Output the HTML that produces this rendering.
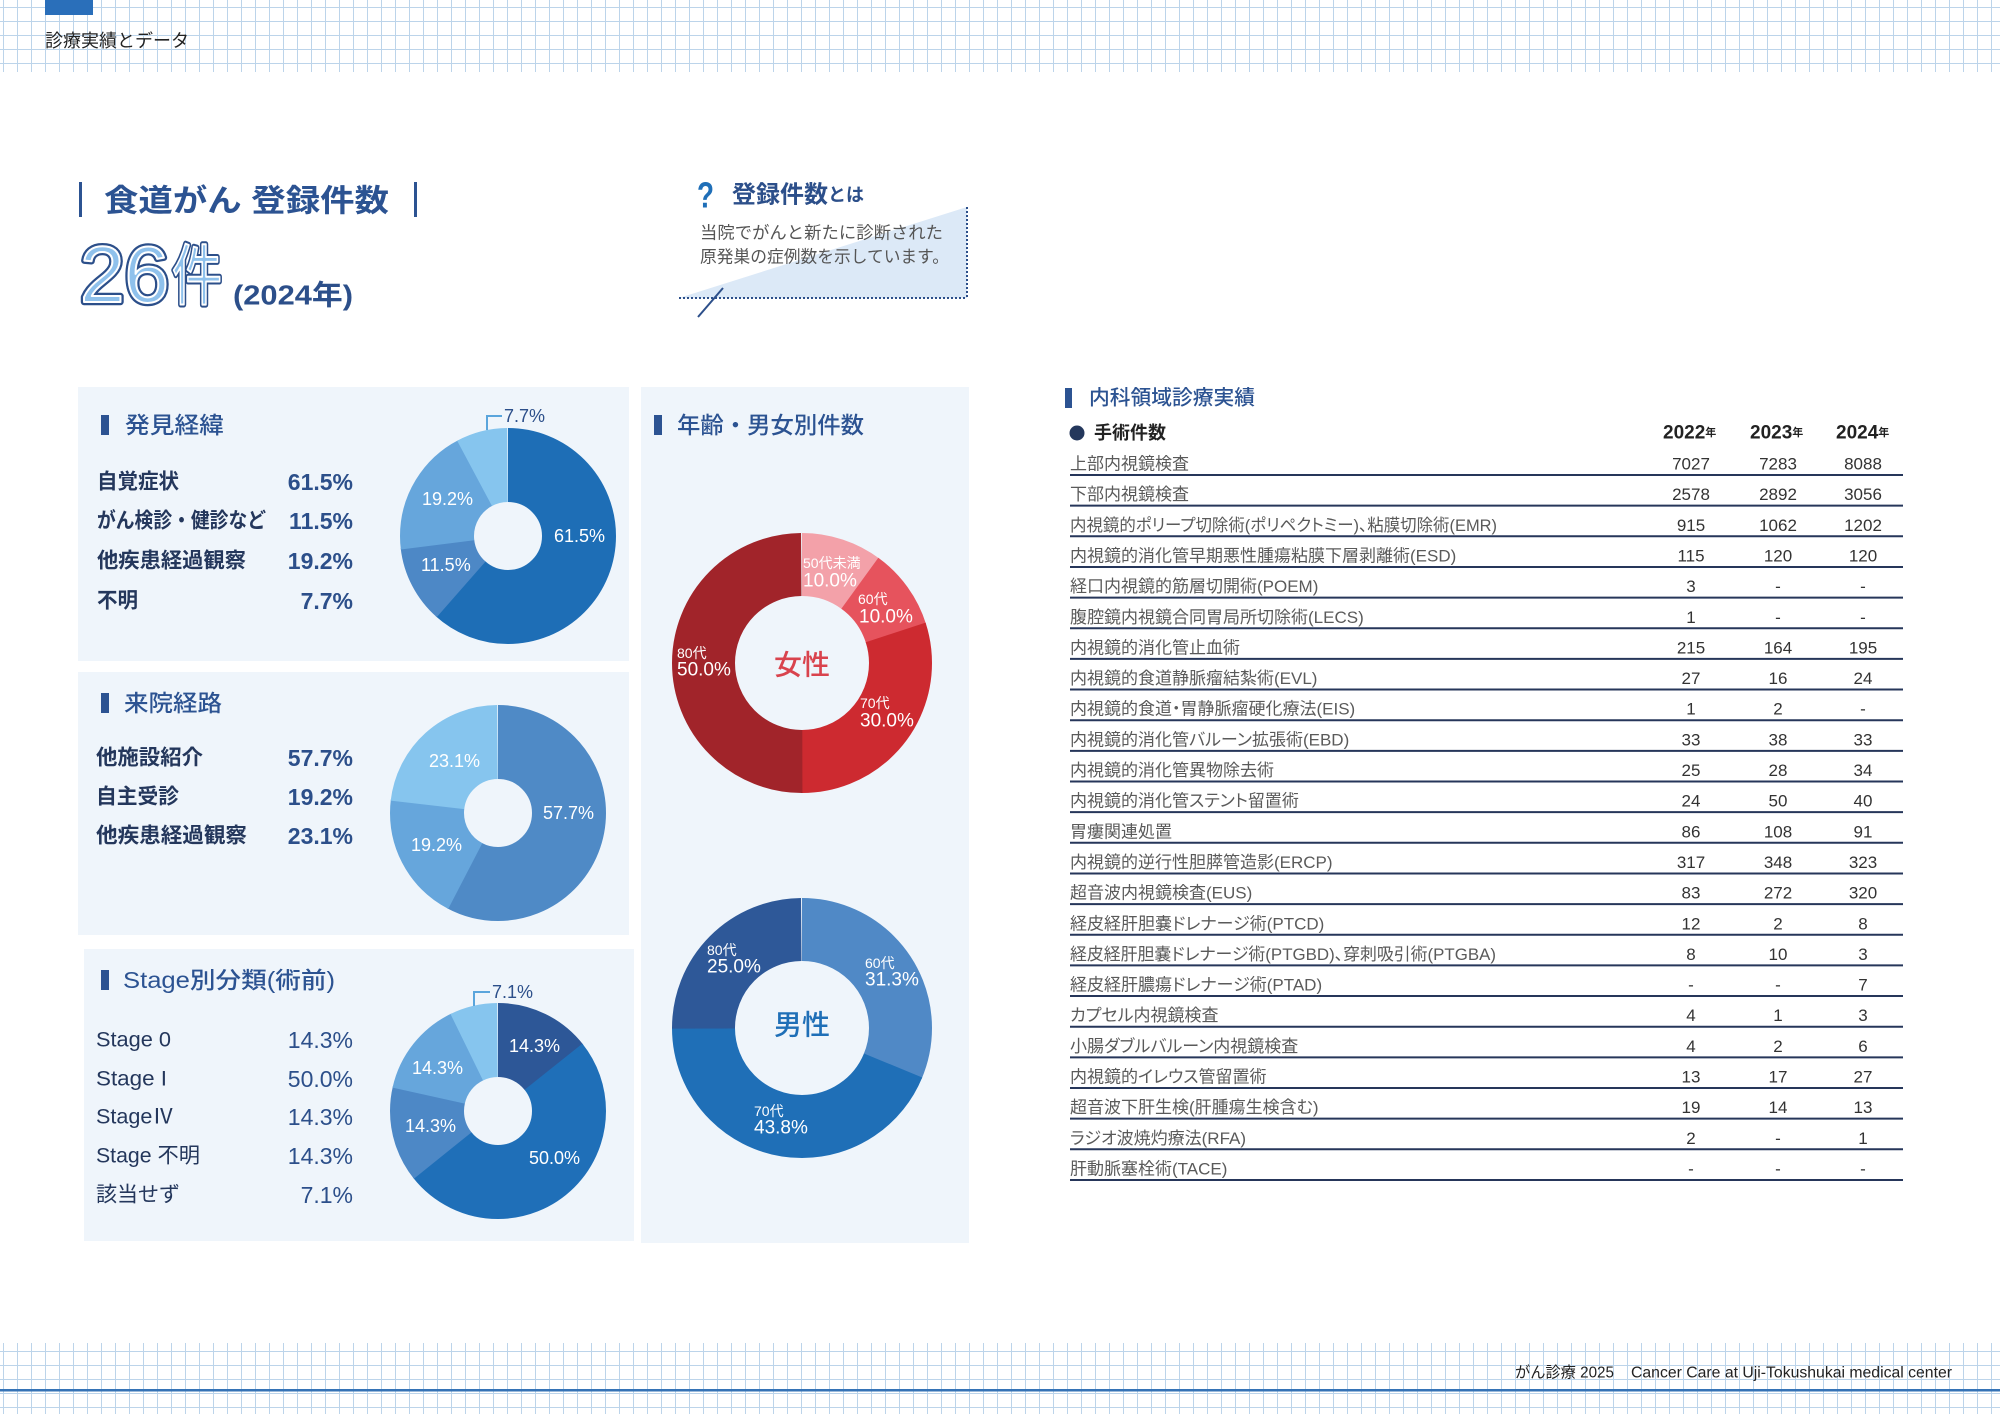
<!DOCTYPE html>
<html><head><meta charset="utf-8">
<style>
html,body{margin:0;padding:0;background:#fff;}
body{width:2000px;height:1414px;overflow:hidden;position:relative;}
svg{position:absolute;left:0;top:0;display:block;}
text{font-family:"Liberation Sans","Noto Sans CJK JP",sans-serif;dominant-baseline:central;}
.hd{font-size:23px;font-weight:500;fill:#2c5392;}
.lb{font-size:21px;font-weight:bold;fill:#24375c;}
.lbr{font-size:21px;fill:#24375c;}
.pc{font-size:23px;font-weight:bold;fill:#2c4f8a;text-anchor:end;}
.pcr{font-size:23px;fill:#2c4f8a;text-anchor:end;}
.wl{font-size:18px;fill:#fff;}
.ag{font-size:14px;fill:#fff;}
.ap{font-size:19px;fill:#fff;}
.tr{font-size:17px;fill:#5a5a5a;font-feature-settings:"palt";}
.tn{font-size:17px;fill:#333;text-anchor:middle;}
</style></head>
<body>
<svg xmlns="http://www.w3.org/2000/svg" width="2000" height="1414" viewBox="0 0 2000 1414">
<defs>
<pattern id="g" x="3" y="7" width="14" height="14" patternUnits="userSpaceOnUse">
<path d="M0.5 0V14M0 0.5H14" stroke="#bcd4ea" stroke-width="1" fill="none"/>
</pattern>
</defs>
<rect width="2000" height="1414" fill="#fff"/>
<!-- header grid -->
<rect x="0" y="0" width="2000" height="72" fill="url(#g)"/>
<rect x="45" y="0" width="48" height="15" fill="#2a6fba"/>
<text x="45" y="41" font-size="18" fill="#222">診療実績とデータ</text>
<!-- footer grid -->
<rect x="0" y="1343" width="2000" height="71" fill="url(#g)"/>
<rect x="0" y="1389" width="2000" height="2.5" fill="#3573b6"/>
<text x="1515" y="1373" font-size="15.5" fill="#222" textLength="99" lengthAdjust="spacingAndGlyphs">がん診療 2025</text>
<text x="1631" y="1373" font-size="15.5" fill="#222" textLength="321" lengthAdjust="spacingAndGlyphs">Cancer Care at Uji-Tokushukai medical center</text>

<!-- title -->
<rect x="79" y="182" width="3" height="35" fill="#2c5392"/>
<rect x="414" y="182" width="3" height="35" fill="#2c5392"/>
<text x="104" y="201" font-size="31" font-weight="bold" fill="#2c5392" textLength="285" lengthAdjust="spacingAndGlyphs">食道がん 登録件数</text>
<text x="80" y="302" font-size="80" stroke="#2c4f8a" stroke-width="6.5" stroke-linejoin="round" fill="#2c4f8a" style="dominant-baseline:alphabetic">26</text>
<text x="80" y="302" font-size="80" stroke="#ffffff" stroke-width="2" stroke-linejoin="round" fill="#8fc1ec" style="dominant-baseline:alphabetic">26</text>
<text x="172" y="299" font-size="66" stroke="#2c4f8a" stroke-width="6" stroke-linejoin="round" fill="#2c4f8a" textLength="50" lengthAdjust="spacingAndGlyphs" style="dominant-baseline:alphabetic">件</text>
<text x="172" y="299" font-size="66" stroke="#ffffff" stroke-width="2" stroke-linejoin="round" fill="#8fc1ec" textLength="50" lengthAdjust="spacingAndGlyphs" style="dominant-baseline:alphabetic">件</text>
<text x="233" y="295" font-size="28" font-weight="bold" fill="#2c4f8a" textLength="120" lengthAdjust="spacingAndGlyphs">(2024年)</text>

<!-- question box -->
<polygon points="679,298 967,207 967,298" fill="#dce9f7"/>
<line x1="679" y1="298" x2="967" y2="298" stroke="#2c4f8a" stroke-width="2" stroke-dasharray="2 2"/>
<line x1="967" y1="207" x2="967" y2="298" stroke="#2c4f8a" stroke-width="2" stroke-dasharray="2 2"/>
<line x1="698" y1="317" x2="723" y2="288" stroke="#2c4f8a" stroke-width="2"/>
<text x="697" y="195" font-size="36" font-weight="bold" fill="#1f6fb8" textLength="17" lengthAdjust="spacingAndGlyphs">?</text>
<text x="732" y="195" font-size="24" font-weight="bold" fill="#2c4f8a">登録件数<tspan font-size="18">とは</tspan></text>
<text x="700" y="233" font-size="17" fill="#555" textLength="243" lengthAdjust="spacingAndGlyphs">当院でがんと新たに診断された</text>
<text x="700" y="257" font-size="17" fill="#555" textLength="249" lengthAdjust="spacingAndGlyphs">原発巣の症例数を示しています。</text>

<!-- panels -->
<rect x="78" y="387" width="551" height="274" fill="#eff5fb"/>
<rect x="78" y="672" width="551" height="263" fill="#eff5fb"/>
<rect x="84" y="949" width="550" height="292" fill="#eff5fb"/>
<rect x="641" y="387" width="328" height="856" fill="#eff5fb"/>

<!-- Panel A -->
<rect x="101" y="415" width="8" height="20" fill="#2c5392"/>
<text class="hd" x="125" y="425" textLength="99" lengthAdjust="spacingAndGlyphs">発見経緯</text>
<text class="lb" x="97" y="482" textLength="82" lengthAdjust="spacingAndGlyphs">自覚症状</text>
<text class="lb" x="97" y="521" textLength="169" lengthAdjust="spacingAndGlyphs">がん検診・健診など</text>
<text class="lb" x="97" y="561" textLength="149" lengthAdjust="spacingAndGlyphs">他疾患経過観察</text>
<text class="lb" x="97" y="601" textLength="41" lengthAdjust="spacingAndGlyphs">不明</text>
<text class="pc" x="353" y="482">61.5%</text>
<text class="pc" x="353" y="521">11.5%</text>
<text class="pc" x="353" y="561">19.2%</text>
<text class="pc" x="353" y="601">7.7%</text>
<g transform="translate(508,536) rotate(-90)" fill="none" stroke-width="74">
<circle r="71" pathLength="100" stroke="#1e6eb6" stroke-dasharray="61.74 200" stroke-dashoffset="0"/>
<circle r="71" pathLength="100" stroke="#4d88c6" stroke-dasharray="11.74 200" stroke-dashoffset="-61.54"/>
<circle r="71" pathLength="100" stroke="#66a6dc" stroke-dasharray="19.43 200" stroke-dashoffset="-73.08"/>
<circle r="71" pathLength="100" stroke="#86c5ee" stroke-dasharray="7.69 200" stroke-dashoffset="-92.31"/>
</g>
<text class="wl" x="554" y="536">61.5%</text>
<text class="wl" x="421" y="565">11.5%</text>
<text class="wl" x="422" y="499">19.2%</text>
<polyline points="487,430 487,416 502,416" fill="none" stroke="#5aa5dc" stroke-width="2"/>
<text x="504" y="416" font-size="18" fill="#2c4f8a">7.7%</text>

<!-- Panel B -->
<rect x="101" y="693" width="8" height="20" fill="#2c5392"/>
<text class="hd" x="124" y="703" textLength="98" lengthAdjust="spacingAndGlyphs">来院経路</text>
<text class="lb" x="96" y="758" textLength="107" lengthAdjust="spacingAndGlyphs">他施設紹介</text>
<text class="lb" x="96" y="797" textLength="83" lengthAdjust="spacingAndGlyphs">自主受診</text>
<text class="lb" x="96" y="836" textLength="151" lengthAdjust="spacingAndGlyphs">他疾患経過観察</text>
<text class="pc" x="353" y="758">57.7%</text>
<text class="pc" x="353" y="797">19.2%</text>
<text class="pc" x="353" y="836">23.1%</text>
<g transform="translate(498,813) rotate(-90)" fill="none" stroke-width="74">
<circle r="71" pathLength="100" stroke="#4f8ac6" stroke-dasharray="57.89 200" stroke-dashoffset="0"/>
<circle r="71" pathLength="100" stroke="#66a6dc" stroke-dasharray="19.43 200" stroke-dashoffset="-57.69"/>
<circle r="71" pathLength="100" stroke="#86c5ee" stroke-dasharray="23.08 200" stroke-dashoffset="-76.92"/>
</g>
<text class="wl" x="543" y="813">57.7%</text>
<text class="wl" x="411" y="845">19.2%</text>
<text class="wl" x="429" y="761">23.1%</text>

<!-- Panel C -->
<rect x="101" y="970" width="8" height="20" fill="#2c5392"/>
<text class="hd" x="123" y="980" textLength="212" lengthAdjust="spacingAndGlyphs">Stage別分類(術前)</text>
<text class="lbr" x="96" y="1040" textLength="75" lengthAdjust="spacingAndGlyphs">Stage 0</text>
<text class="lbr" x="96" y="1079" textLength="71" lengthAdjust="spacingAndGlyphs">Stage I</text>
<text class="lbr" x="96" y="1117" textLength="78" lengthAdjust="spacingAndGlyphs">StageⅣ</text>
<text class="lbr" x="96" y="1156" textLength="104" lengthAdjust="spacingAndGlyphs">Stage 不明</text>
<text class="lbr" x="96" y="1195" textLength="84" lengthAdjust="spacingAndGlyphs">該当せず</text>
<text class="pcr" x="353" y="1040">14.3%</text>
<text class="pcr" x="353" y="1079">50.0%</text>
<text class="pcr" x="353" y="1117">14.3%</text>
<text class="pcr" x="353" y="1156">14.3%</text>
<text class="pcr" x="353" y="1195">7.1%</text>
<g transform="translate(498,1111) rotate(-90)" fill="none" stroke-width="74">
<circle r="71" pathLength="100" stroke="#2d5797" stroke-dasharray="14.49 200" stroke-dashoffset="0"/>
<circle r="71" pathLength="100" stroke="#1f6fb8" stroke-dasharray="50.2 200" stroke-dashoffset="-14.29"/>
<circle r="71" pathLength="100" stroke="#4d88c6" stroke-dasharray="14.49 200" stroke-dashoffset="-64.29"/>
<circle r="71" pathLength="100" stroke="#66a6dc" stroke-dasharray="14.49 200" stroke-dashoffset="-78.57"/>
<circle r="71" pathLength="100" stroke="#86c5ee" stroke-dasharray="7.14 200" stroke-dashoffset="-92.86"/>
</g>
<text class="wl" x="509" y="1046">14.3%</text>
<text class="wl" x="529" y="1158">50.0%</text>
<text class="wl" x="405" y="1126">14.3%</text>
<text class="wl" x="412" y="1068">14.3%</text>
<polyline points="474,1006 474,992 490,992" fill="none" stroke="#5aa5dc" stroke-width="2"/>
<text x="492" y="992" font-size="18" fill="#2c4f8a">7.1%</text>

<!-- Panel D -->
<rect x="654" y="415" width="8" height="20" fill="#2c5392"/>
<text class="hd" x="677" y="425" textLength="187" lengthAdjust="spacingAndGlyphs">年齢・男女別件数</text>
<g transform="translate(802,663) rotate(-90)" fill="none" stroke-width="63">
<circle r="98.5" pathLength="100" stroke="#f3a1a9" stroke-dasharray="10.2 200" stroke-dashoffset="0"/>
<circle r="98.5" pathLength="100" stroke="#e6535d" stroke-dasharray="10.2 200" stroke-dashoffset="-10"/>
<circle r="98.5" pathLength="100" stroke="#cd2a30" stroke-dasharray="30.2 200" stroke-dashoffset="-20"/>
<circle r="98.5" pathLength="100" stroke="#a1242a" stroke-dasharray="50 200" stroke-dashoffset="-50"/>
</g>
<text x="802" y="665" font-size="28" font-weight="500" fill="#d9434d" text-anchor="middle">女性</text>
<text class="ag" x="803" y="563">50代未満</text>
<text class="ap" x="803" y="581">10.0%</text>
<text class="ag" x="858" y="599">60代</text>
<text class="ap" x="859" y="617">10.0%</text>
<text class="ag" x="677" y="653">80代</text>
<text class="ap" x="677" y="670">50.0%</text>
<text class="ag" x="860" y="703">70代</text>
<text class="ap" x="860" y="721">30.0%</text>

<g transform="translate(802,1028) rotate(-90)" fill="none" stroke-width="63">
<circle r="98.5" pathLength="100" stroke="#5089c6" stroke-dasharray="31.45 200" stroke-dashoffset="0"/>
<circle r="98.5" pathLength="100" stroke="#1f6fb7" stroke-dasharray="43.95 200" stroke-dashoffset="-31.25"/>
<circle r="98.5" pathLength="100" stroke="#2e5898" stroke-dasharray="25 200" stroke-dashoffset="-75"/>
</g>
<text x="802" y="1025" font-size="28" font-weight="500" fill="#1f6fb7" text-anchor="middle">男性</text>
<text class="ag" x="707" y="950">80代</text>
<text class="ap" x="707" y="967">25.0%</text>
<text class="ag" x="865" y="963">60代</text>
<text class="ap" x="865" y="980">31.3%</text>
<text class="ag" x="754" y="1111">70代</text>
<text class="ap" x="754" y="1128">43.8%</text>

<!-- Table -->
<rect x="1065" y="388" width="7" height="20" fill="#2c5392"/>
<text x="1089" y="398" font-size="20.5" font-weight="500" fill="#2c5392" textLength="166" lengthAdjust="spacingAndGlyphs">内科領域診療実績</text>
<circle cx="1077" cy="433" r="7.5" fill="#24375c"/>
<text x="1094" y="433" font-size="18" font-weight="bold" fill="#222">手術件数</text>
<text x="1663" y="433" font-size="19" font-weight="bold" fill="#222">2022<tspan font-size="11">年</tspan></text>
<text x="1750" y="433" font-size="19" font-weight="bold" fill="#222">2023<tspan font-size="11">年</tspan></text>
<text x="1836" y="433" font-size="19" font-weight="bold" fill="#222">2024<tspan font-size="11">年</tspan></text>

<g stroke="#26365a" stroke-width="2">
<line x1="1070" x2="1903" y1="475" y2="475"/>
<line x1="1070" x2="1903" y1="505.65" y2="505.65"/>
<line x1="1070" x2="1903" y1="536.3" y2="536.3"/>
<line x1="1070" x2="1903" y1="566.95" y2="566.95"/>
<line x1="1070" x2="1903" y1="597.6" y2="597.6"/>
<line x1="1070" x2="1903" y1="628.25" y2="628.25"/>
<line x1="1070" x2="1903" y1="658.9" y2="658.9"/>
<line x1="1070" x2="1903" y1="689.55" y2="689.55"/>
<line x1="1070" x2="1903" y1="720.2" y2="720.2"/>
<line x1="1070" x2="1903" y1="750.85" y2="750.85"/>
<line x1="1070" x2="1903" y1="781.5" y2="781.5"/>
<line x1="1070" x2="1903" y1="812.15" y2="812.15"/>
<line x1="1070" x2="1903" y1="842.8" y2="842.8"/>
<line x1="1070" x2="1903" y1="873.45" y2="873.45"/>
<line x1="1070" x2="1903" y1="904.1" y2="904.1"/>
<line x1="1070" x2="1903" y1="934.75" y2="934.75"/>
<line x1="1070" x2="1903" y1="965.4" y2="965.4"/>
<line x1="1070" x2="1903" y1="996.05" y2="996.05"/>
<line x1="1070" x2="1903" y1="1026.7" y2="1026.7"/>
<line x1="1070" x2="1903" y1="1057.35" y2="1057.35"/>
<line x1="1070" x2="1903" y1="1088" y2="1088"/>
<line x1="1070" x2="1903" y1="1118.65" y2="1118.65"/>
<line x1="1070" x2="1903" y1="1149.3" y2="1149.3"/>
<line x1="1070" x2="1903" y1="1179.95" y2="1179.95"/>
</g>

<text class="tr" x="1070" y="464">上部内視鏡検査</text>
<text class="tn" x="1691" y="464">7027</text><text class="tn" x="1778" y="464">7283</text><text class="tn" x="1863" y="464">8088</text>

<text class="tr" x="1070" y="494.65">下部内視鏡検査</text>
<text class="tn" x="1691" y="494.65">2578</text><text class="tn" x="1778" y="494.65">2892</text><text class="tn" x="1863" y="494.65">3056</text>

<text class="tr" x="1070" y="525.3" textLength="427" lengthAdjust="spacingAndGlyphs">内視鏡的ポリープ切除術(ポリペクトミー)、粘膜切除術(EMR)</text>
<text class="tn" x="1691" y="525.3">915</text><text class="tn" x="1778" y="525.3">1062</text><text class="tn" x="1863" y="525.3">1202</text>

<text class="tr" x="1070" y="555.95">内視鏡的消化管早期悪性腫瘍粘膜下層剥離術(ESD)</text>
<text class="tn" x="1691" y="555.95">115</text><text class="tn" x="1778" y="555.95">120</text><text class="tn" x="1863" y="555.95">120</text>

<text class="tr" x="1070" y="586.6">経口内視鏡的筋層切開術(POEM)</text>
<text class="tn" x="1691" y="586.6">3</text><text class="tn" x="1778" y="586.6">-</text><text class="tn" x="1863" y="586.6">-</text>

<text class="tr" x="1070" y="617.25">腹腔鏡内視鏡合同胃局所切除術(LECS)</text>
<text class="tn" x="1691" y="617.25">1</text><text class="tn" x="1778" y="617.25">-</text><text class="tn" x="1863" y="617.25">-</text>

<text class="tr" x="1070" y="647.9">内視鏡的消化管止血術</text>
<text class="tn" x="1691" y="647.9">215</text><text class="tn" x="1778" y="647.9">164</text><text class="tn" x="1863" y="647.9">195</text>

<text class="tr" x="1070" y="678.55">内視鏡的食道静脈瘤結紮術(EVL)</text>
<text class="tn" x="1691" y="678.55">27</text><text class="tn" x="1778" y="678.55">16</text><text class="tn" x="1863" y="678.55">24</text>

<text class="tr" x="1070" y="709.2">内視鏡的食道・胃静脈瘤硬化療法(EIS)</text>
<text class="tn" x="1691" y="709.2">1</text><text class="tn" x="1778" y="709.2">2</text><text class="tn" x="1863" y="709.2">-</text>

<text class="tr" x="1070" y="739.85">内視鏡的消化管バルーン拡張術(EBD)</text>
<text class="tn" x="1691" y="739.85">33</text><text class="tn" x="1778" y="739.85">38</text><text class="tn" x="1863" y="739.85">33</text>

<text class="tr" x="1070" y="770.5">内視鏡的消化管異物除去術</text>
<text class="tn" x="1691" y="770.5">25</text><text class="tn" x="1778" y="770.5">28</text><text class="tn" x="1863" y="770.5">34</text>

<text class="tr" x="1070" y="801.15">内視鏡的消化管ステント留置術</text>
<text class="tn" x="1691" y="801.15">24</text><text class="tn" x="1778" y="801.15">50</text><text class="tn" x="1863" y="801.15">40</text>

<text class="tr" x="1070" y="831.8">胃瘻関連処置</text>
<text class="tn" x="1691" y="831.8">86</text><text class="tn" x="1778" y="831.8">108</text><text class="tn" x="1863" y="831.8">91</text>

<text class="tr" x="1070" y="862.45">内視鏡的逆行性胆膵管造影(ERCP)</text>
<text class="tn" x="1691" y="862.45">317</text><text class="tn" x="1778" y="862.45">348</text><text class="tn" x="1863" y="862.45">323</text>

<text class="tr" x="1070" y="893.1">超音波内視鏡検査(EUS)</text>
<text class="tn" x="1691" y="893.1">83</text><text class="tn" x="1778" y="893.1">272</text><text class="tn" x="1863" y="893.1">320</text>

<text class="tr" x="1070" y="923.75">経皮経肝胆嚢ドレナージ術(PTCD)</text>
<text class="tn" x="1691" y="923.75">12</text><text class="tn" x="1778" y="923.75">2</text><text class="tn" x="1863" y="923.75">8</text>

<text class="tr" x="1070" y="954.4" textLength="426" lengthAdjust="spacingAndGlyphs">経皮経肝胆嚢ドレナージ術(PTGBD)、穿刺吸引術(PTGBA)</text>
<text class="tn" x="1691" y="954.4">8</text><text class="tn" x="1778" y="954.4">10</text><text class="tn" x="1863" y="954.4">3</text>

<text class="tr" x="1070" y="985.05">経皮経肝膿瘍ドレナージ術(PTAD)</text>
<text class="tn" x="1691" y="985.05">-</text><text class="tn" x="1778" y="985.05">-</text><text class="tn" x="1863" y="985.05">7</text>

<text class="tr" x="1070" y="1015.7">カプセル内視鏡検査</text>
<text class="tn" x="1691" y="1015.7">4</text><text class="tn" x="1778" y="1015.7">1</text><text class="tn" x="1863" y="1015.7">3</text>

<text class="tr" x="1070" y="1046.35">小腸ダブルバルーン内視鏡検査</text>
<text class="tn" x="1691" y="1046.35">4</text><text class="tn" x="1778" y="1046.35">2</text><text class="tn" x="1863" y="1046.35">6</text>

<text class="tr" x="1070" y="1077">内視鏡的イレウス管留置術</text>
<text class="tn" x="1691" y="1077">13</text><text class="tn" x="1778" y="1077">17</text><text class="tn" x="1863" y="1077">27</text>

<text class="tr" x="1070" y="1107.65">超音波下肝生検(肝腫瘍生検含む)</text>
<text class="tn" x="1691" y="1107.65">19</text><text class="tn" x="1778" y="1107.65">14</text><text class="tn" x="1863" y="1107.65">13</text>

<text class="tr" x="1070" y="1138.3">ラジオ波焼灼療法(RFA)</text>
<text class="tn" x="1691" y="1138.3">2</text><text class="tn" x="1778" y="1138.3">-</text><text class="tn" x="1863" y="1138.3">1</text>

<text class="tr" x="1070" y="1168.95">肝動脈塞栓術(TACE)</text>
<text class="tn" x="1691" y="1168.95">-</text><text class="tn" x="1778" y="1168.95">-</text><text class="tn" x="1863" y="1168.95">-</text>
</svg>
</body></html>
